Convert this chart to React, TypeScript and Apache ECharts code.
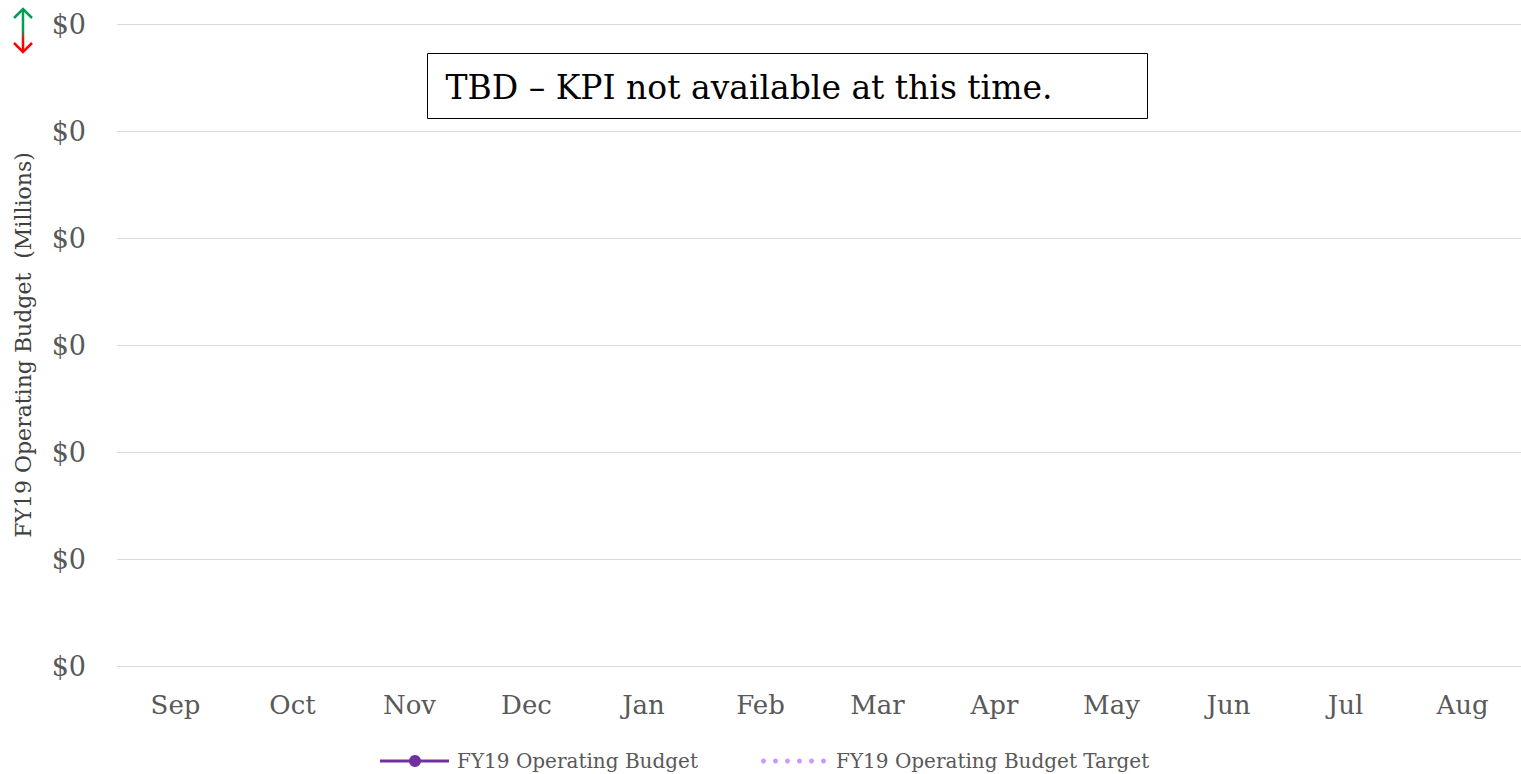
import React, { useEffect, useRef } from "react";
import * as echarts from "echarts";

const months = ["Sep", "Oct", "Nov", "Dec", "Jan", "Feb", "Mar", "Apr", "May", "Jun", "Jul", "Aug"];
const budget: (number | null)[] = [null, null, null, null, null, null, null, null, null, null, null, null];
const budgetTarget: (number | null)[] = [null, null, null, null, null, null, null, null, null, null, null, null];
const yTickLabels = ["$0", "$0", "$0", "$0", "$0", "$0", "$0"];
const seriesNames = ["FY19 Operating Budget", "FY19 Operating Budget Target"];
const noteText = "TBD – KPI not available at this time.";

const FONT = "DejaVu Serif";
const BUDGET_COLOR = "#7030A0";
const TARGET_COLOR = "#CC99FF";

export default function App() {
  const ref = useRef<HTMLDivElement>(null);
  useEffect(() => {
    if (!ref.current) return;
    const chart = echarts.init(ref.current, undefined, { renderer: "svg" });
    const dots = [0, 1, 2, 3, 4, 5].map((i) => ({
      type: "circle",
      shape: { cx: 2.5 + i * 12, cy: 0, r: 2.5 },
      style: { fill: TARGET_COLOR },
    }));
    chart.setOption({
      animation: false,
      textStyle: { fontFamily: FONT },
      grid: { left: 117, right: 0, top: 24, bottom: 108, containLabel: false, outerBoundsMode: "none" },
      xAxis: {
        type: "category",
        data: months,
        boundaryGap: true,
        axisLine: { show: false },
        axisTick: { show: false },
        axisLabel: { color: "#595959", fontSize: 26, margin: 26, fontFamily: FONT },
      },
      yAxis: {
        type: "value",
        min: 0,
        max: 6,
        interval: 1,
        name: "FY19 Operating Budget  (Millions)",
        nameLocation: "middle",
        nameGap: 83,
        nameTextStyle: { color: "#404040", fontSize: 22, fontFamily: FONT },
        axisLine: { show: false },
        axisTick: { show: false },
        axisLabel: {
          color: "#595959",
          fontSize: 27,
          margin: 31,
          fontFamily: FONT,
          formatter: (_v: number, i: number) => yTickLabels[i] ?? "$0",
        },
        splitLine: { lineStyle: { color: "#d9d9d9", width: 1 } },
      },
      legend: { show: false },
      series: [
        {
          name: seriesNames[0],
          type: "line",
          data: budget,
          symbol: "circle",
          symbolSize: 12,
          itemStyle: { color: BUDGET_COLOR },
          lineStyle: { color: BUDGET_COLOR, width: 3 },
        },
        {
          name: seriesNames[1],
          type: "line",
          data: budgetTarget,
          symbol: "none",
          itemStyle: { color: TARGET_COLOR },
          lineStyle: { color: TARGET_COLOR, width: 4, type: [0.1, 12], cap: "round" },
        },
      ],
      graphic: [
        {
          type: "group",
          left: 427,
          top: 53,
          children: [
            {
              type: "rect",
              shape: { x: 0, y: 0, width: 720, height: 65 },
              style: { fill: "#ffffff", stroke: "#000000", lineWidth: 1 },
            },
            {
              type: "text",
              x: 18,
              y: 34,
              style: {
                text: noteText,
                fill: "#000000",
                fontSize: 33,
                fontFamily: FONT,
                verticalAlign: "middle",
              },
            },
          ],
        },
        {
          type: "group",
          x: 13,
          y: 8,
          children: [
            {
              type: "rect",
              shape: { x: 8.75, y: 1, width: 2.5, height: 43 },
              style: {
                fill: new echarts.graphic.LinearGradient(0, 0, 0, 1, [
                  { offset: 0, color: "#00a050" },
                  { offset: 0.5, color: "#00a050" },
                  { offset: 0.72, color: "#ff0000" },
                  { offset: 1, color: "#ff0000" },
                ]),
              },
            },
            { type: "polyline", shape: { points: [[1, 10], [10, 1], [19, 10]] }, style: { stroke: "#00a050", lineWidth: 2.5, fill: "none" } },
            { type: "polyline", shape: { points: [[1, 35], [10, 44], [19, 35]] }, style: { stroke: "#ff0000", lineWidth: 2.5, fill: "none" } },
          ],
        },
        {
          type: "group",
          x: 380,
          y: 761,
          children: [
            { type: "line", shape: { x1: 0, y1: 0, x2: 69, y2: 0 }, style: { stroke: BUDGET_COLOR, lineWidth: 3 } },
            { type: "circle", shape: { cx: 35, cy: 0, r: 6 }, style: { fill: BUDGET_COLOR } },
            {
              type: "text",
              x: 77,
              y: 0,
              style: { text: seriesNames[0], fill: "#595959", fontSize: 20, fontFamily: FONT, verticalAlign: "middle" },
            },
          ],
        },
        {
          type: "group",
          x: 761,
          y: 761,
          children: [
            ...dots,
            {
              type: "text",
              x: 75,
              y: 0,
              style: { text: seriesNames[1], fill: "#595959", fontSize: 20, fontFamily: FONT, verticalAlign: "middle" },
            },
          ],
        },
      ],
    });
    return () => chart.dispose();
  }, []);
  return <div ref={ref} style={{ position: "fixed", left: 0, top: 0, width: 1521, height: 774, background: "#fff" }} />;
}
